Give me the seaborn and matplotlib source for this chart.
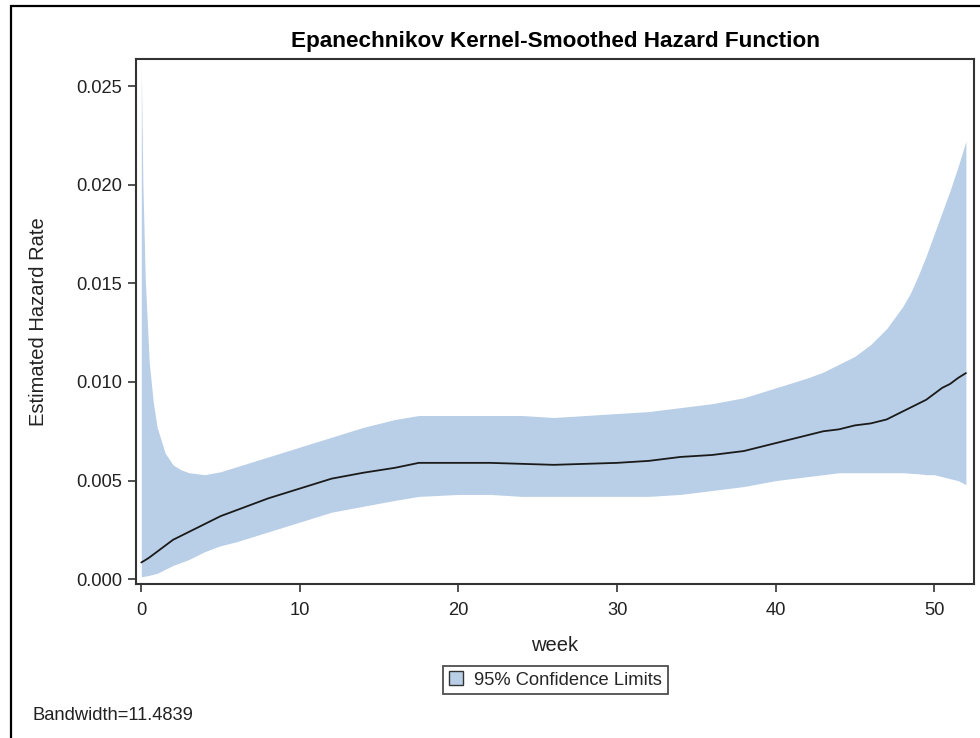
import matplotlib
matplotlib.use("Agg")
import matplotlib.pyplot as plt
import seaborn as sns
import pandas as pd
from matplotlib.patches import Patch, Rectangle
from matplotlib.ticker import FixedLocator, FormatStrFormatter

# Smoothed hazard estimate and 95% confidence limits by week
weeks = [0, 0.1, 0.25, 0.5, 0.75, 1, 1.5, 2, 2.5, 3, 4, 5, 6, 8, 10, 12, 14,
         16, 17.5, 20, 22, 24, 26, 28, 30, 32, 34, 36, 38, 40, 42, 43, 44, 45,
         46, 47, 48, 48.5, 49, 49.5, 50, 50.5, 51, 51.5, 52]
hazard = [0.00085, 0.0009, 0.00097, 0.0011, 0.00125, 0.0014, 0.0017, 0.0020,
          0.0022, 0.0024, 0.0028, 0.0032, 0.0035, 0.0041, 0.0046, 0.0051,
          0.0054, 0.00565, 0.0059, 0.0059, 0.0059, 0.00585, 0.0058, 0.00585,
          0.0059, 0.0060, 0.0062, 0.0063, 0.0065, 0.0069, 0.0073, 0.0075,
          0.0076, 0.0078, 0.0079, 0.0081, 0.0085, 0.0087, 0.0089, 0.0091,
          0.0094, 0.0097, 0.0099, 0.0102, 0.01045]
upper = [0.0258, 0.0200, 0.0152, 0.0110, 0.0090, 0.0077, 0.0064, 0.0058,
         0.00555, 0.0054, 0.0053, 0.00545, 0.0057, 0.0062, 0.0067, 0.0072,
         0.0077, 0.0081, 0.0083, 0.0083, 0.0083, 0.0083, 0.0082, 0.0083,
         0.0084, 0.0085, 0.0087, 0.0089, 0.0092, 0.0097, 0.0102, 0.0105,
         0.0109, 0.0113, 0.0119, 0.0127, 0.0138, 0.0145, 0.0154, 0.0164,
         0.0175, 0.0186, 0.0197, 0.0209, 0.0222]
lower = [0.00013, 0.00014, 0.00016, 0.0002, 0.00025, 0.0003, 0.0005, 0.0007,
         0.00085, 0.0010, 0.0014, 0.0017, 0.0019, 0.0024, 0.0029, 0.0034,
         0.0037, 0.0040, 0.0042, 0.0043, 0.0043, 0.0042, 0.0042, 0.0042,
         0.0042, 0.0042, 0.0043, 0.0045, 0.0047, 0.0050, 0.0052, 0.0053,
         0.0054, 0.0054, 0.0054, 0.0054, 0.0054, 0.00537, 0.00535, 0.0053,
         0.0053, 0.0052, 0.0051, 0.0050, 0.0048]

x_ticks = [0, 10, 20, 30, 40, 50]
y_ticks = [0.000, 0.005, 0.010, 0.015, 0.020, 0.025]
bandwidth = 11.4839

df = pd.DataFrame({"week": weeks, "hazard": hazard, "upper": upper, "lower": lower})

sns.set_theme(style="white")
plt.rcParams["font.family"] = ["Liberation Sans", "DejaVu Sans"]

W, H = 980, 738
fig = plt.figure(figsize=(W / 100, H / 100), dpi=100)
ax = fig.add_axes([136 / W, 1 - 584 / H, (974 - 136) / W, (584 - 59) / H])

band_color = "#B9CFE7"
ax.fill_between(df["week"], df["lower"], df["upper"], color=band_color, linewidth=0, zorder=1)
sns.lineplot(data=df, x="week", y="hazard", ax=ax, color="#1a1a1a", linewidth=1.3, zorder=3)

ax.set_xlim(-0.335, 52.51)
ax.set_ylim(-0.00024, 0.02637)
ax.xaxis.set_major_locator(FixedLocator(x_ticks))
ax.yaxis.set_major_locator(FixedLocator(y_ticks))
ax.yaxis.set_major_formatter(FormatStrFormatter("%.3f"))

for s in ax.spines.values():
    s.set_color("#333333")
    s.set_linewidth(1.5)
ax.tick_params(axis="both", which="major", direction="out", length=6, width=1.2,
               color="#333333", labelsize=13.2, labelcolor="#222222", pad=4,
               left=True, bottom=True)
ax.tick_params(axis="x", pad=7)

ax.set_xlabel("week", fontsize=14.5, color="#222222", labelpad=12)
ax.set_ylabel("Estimated Hazard Rate", fontsize=14.5, color="#222222", labelpad=20)
ax.set_title("Epanechnikov Kernel-Smoothed Hazard Function", fontsize=16.2,
             fontweight="bold", color="black", pad=9)

handle = Patch(facecolor=band_color, edgecolor="#333333", linewidth=1.0,
               label="95% Confidence Limits")
leg = fig.legend(handles=[handle], loc="center", bbox_to_anchor=(555.5 / W, 1 - 680 / H),
                 frameon=True, fancybox=False, fontsize=13.2, handlelength=0.8,
                 handleheight=0.8, handletextpad=0.6, borderpad=0.3, borderaxespad=0)
leg.get_frame().set_edgecolor("#222222")
leg.get_frame().set_linewidth(1.3)

fig.text(32 / W, 1 - 715 / H, f"Bandwidth={bandwidth}", fontsize=13.2,
         color="#222222", ha="left", va="center")

# Outer frame around the graph area
fig.add_artist(Rectangle((11 / W, -0.05), 1.2, (1 - 6 / H) + 0.05,
                         transform=fig.transFigure, fill=False,
                         edgecolor="black", linewidth=1.6))

fig.savefig("out.png", dpi=100)
